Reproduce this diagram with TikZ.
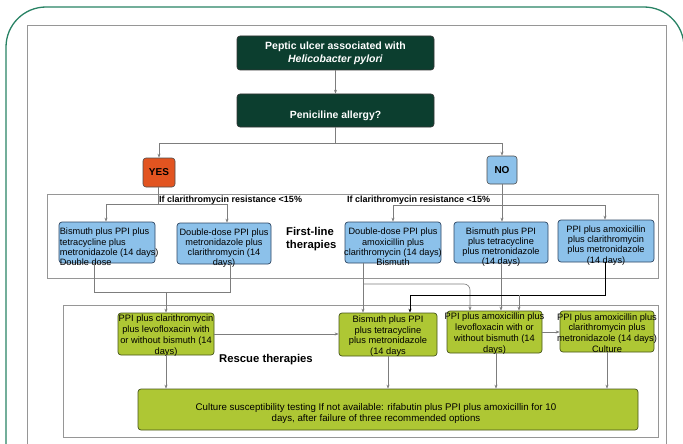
\documentclass[tikz,border=0pt]{standalone}
\usepackage{fontspec}
\setmainfont{Liberation Sans}
\usetikzlibrary{arrows.meta}
\definecolor{dgreen}{RGB}{12,62,47}
\definecolor{frameg}{RGB}{40,130,100}
\definecolor{yesc}{RGB}{226,84,32}
\definecolor{blueb}{RGB}{140,193,234}
\definecolor{bluedraw}{RGB}{45,70,100}
\definecolor{greenb}{RGB}{174,199,52}
\definecolor{greendraw}{RGB}{70,85,25}
\definecolor{conn}{RGB}{125,125,125}
\definecolor{framegray}{RGB}{150,150,150}
\tikzset{
  darkbox/.style={draw=black!80, fill=dgreen, rounded corners=3pt, line width=0.6pt, inner sep=0pt, text=white, align=center, font=\bfseries\fontsize{10.5}{13}\selectfont},
  yesbox/.style={draw=black!70, fill=yesc, rounded corners=3pt, line width=0.6pt, inner sep=0pt, font=\bfseries\fontsize{10}{12}\selectfont},
  bluebox/.style={draw=bluedraw, fill=blueb, rounded corners=3pt, line width=0.7pt, inner sep=0pt},
  greenbox/.style={draw=greendraw, fill=greenb, rounded corners=3pt, line width=0.7pt, inner sep=0pt},
  framebox/.style={draw=framegray, line width=0.6pt, inner sep=0pt},
  btxt/.style={inner sep=0pt, align=center, font=\fontsize{9.2}{10.2}\selectfont},
  rtxt/.style={inner sep=0pt, align=center, font=\fontsize{9.3}{10.8}\selectfont},
  iftxt/.style={inner sep=0pt, anchor=west, font=\bfseries\fontsize{9}{10}\selectfont},
  headtxt/.style={inner sep=0pt, anchor=west, align=left, font=\bfseries\fontsize{11.3}{13}\selectfont},
  cline/.style={draw=conn, line width=0.6pt},
  arr/.style={cline, -{Stealth[length=4pt,width=3pt]}},
  blkarr/.style={draw=black, line width=0.9pt, -{Stealth[length=4pt,width=3pt]}},
}
\begin{document}
\begin{tikzpicture}[x=1pt,y=-1pt]
\useasboundingbox (0,0) rectangle (683,444);
\begin{scope}
\clip (0,0) rectangle (683,444);
\draw[frameg, line width=1.3pt, rounded corners=40pt] (6,7) rectangle (684,520);
\draw[framegray, line width=0.6pt] (27,25) rectangle (666,470);
\end{scope}

% top nodes
\node[darkbox, minimum width=197pt, minimum height=34pt] (top) at (335.5,53) {Peptic ulcer associated with\\\textit{Helicobacter pylori}};
\node[darkbox, minimum width=197pt, minimum height=33pt] (allergy) at (335.5,110.5) {};
\node[inner sep=0pt, text=white, font=\bfseries\fontsize{10.4}{12}\selectfont] (allergyt) at ([yshift=-5.5pt]allergy.center) {Peniciline allergy?};

\node[yesbox, minimum width=32pt, minimum height=29pt] (yes) at (159,172.5) {YES};
\node[yesbox, fill=blueb, minimum width=30pt, minimum height=28pt] (no) at (502,170) {NO};

% first-line frame
\node[framebox, minimum width=611pt, minimum height=84pt] (flframe) at (352.5,236) {};
\node[iftxt] (if1) at (159,200) {If clarithromycin resistance <15\%};
\node[iftxt] (if2) at (347,200) {If clarithromycin resistance <15\%};
\node[headtxt] (flh) at (286,239) {First-line\\therapies};

\node[bluebox, minimum width=96pt, minimum height=41pt] (b1) at (107,242.5) {};
\node[btxt, align=left, anchor=west] (b1t) at ([xshift=1pt,yshift=-4.5pt]b1.west) {Bismuth plus PPI plus\\tetracycline plus\\metronidazole (14 days)\\Double dose};
\node[bluebox, minimum width=94pt, minimum height=41pt] (b2) at (224,243.5) {};
\node[btxt] (b2t) at ([yshift=-4.5pt]b2.center) {Double-dose PPI plus\\metronidazole plus\\clarithromycin (14\\days)};
\node[bluebox, minimum width=96pt, minimum height=41pt] (b3) at (393,242.5) {};
\node[btxt] (b3t) at ([yshift=-4.5pt]b3.center) {Double-dose PPI plus\\amoxicillin plus\\clarithromycin (14 days)\\Bismuth};
\node[bluebox, minimum width=94pt, minimum height=41pt] (b4) at (501,242.5) {};
\node[btxt] (b4t) at ([yshift=-4.5pt]b4.center) {Bismuth plus PPI\\plus tetracycline\\plus metronidazole\\(14 days)};
\node[bluebox, minimum width=96pt, minimum height=42pt] (b5) at (606,241) {};
\node[btxt] (b5t) at ([yshift=-4.5pt]b5.center) {PPI plus amoxicillin\\plus clarithromycin\\plus metronidazole\\(14 days)};

% rescue frame
\node[framebox, minimum width=595pt, minimum height=132pt] (rsframe) at (360.5,371) {};
\node[headtxt] (rsh) at (219,360) {Rescue therapies};

\node[greenbox, minimum width=96pt, minimum height=42pt] (r1) at (166,334) {};
\node[rtxt] (r1t) at ([yshift=-1.5pt]r1.center) {PPI plus clarithromycin\\plus levofloxacin with\\or without bismuth (14\\days)};
\node[greenbox, minimum width=98pt, minimum height=43pt] (r2) at (388,334.5) {};
\node[rtxt] (r2t) at ([yshift=-1.5pt]r2.center) {Bismuth plus PPI\\plus tetracycline\\plus metronidazole\\(14 days};
\node[greenbox, minimum width=95pt, minimum height=42pt] (r3) at (494.5,332) {};
\node[rtxt] (r3t) at ([yshift=-1.5pt]r3.center) {PPI plus amoxicillin plus\\levofloxacin with or\\without bismuth (14\\days)};
\node[greenbox, minimum width=94pt, minimum height=41pt] (r4) at (607,331.5) {};
\node[rtxt] (r4t) at ([yshift=-1.5pt]r4.center) {PPI plus amoxicillin plus\\clarithromycin plus\\metronidazole (14 days)\\Culture};

\node[greenbox, minimum width=500pt, minimum height=41pt] (cult) at (388,409.5) {};
\node[inner sep=0pt, align=center, font=\fontsize{9.7}{11}\selectfont] (cultt) at (376,413) {Culture susceptibility testing If not available: rifabutin plus PPI plus amoxicillin for 10\\days, after failure of three recommended options};

% connectors top
\draw[arr] (top.south) -- (allergy.north);
\coordinate (j0) at (335.5,143);
\draw[cline] (allergy.south) -- (j0);
\draw[arr] (j0) -| (yes.north);
\draw[arr] (j0) -| (no.north);

% YES branch
\coordinate (j1) at (158,204);
\draw[cline] ([xshift=-1pt]yes.south) -- (j1);
\draw[arr] (j1) -| ([xshift=-1pt]b1.north);
\draw[arr] (j1) -| ([xshift=3pt]b2.north);

% NO branch
\coordinate (j2) at (502,205);
\draw[arr] (no.south) -- (no.south |- b4.north);
\draw[arr] (j2) -| (b3.north);
\draw[arr] (j2) -| ([xshift=-1pt]b5.north);

% first-line to rescue
\coordinate (j3) at (166,292);
\draw[cline] ([xshift=-13pt]b1.south) |- (j3);
\draw[cline] ([xshift=6pt]b2.south) |- (j3);
\draw[arr] (j3) -- (j3 |- r1.north);

\coordinate (b3o) at ([xshift=-30pt]b3.south);
\coordinate (j4) at (470,284);
\draw[arr] (b3o) -- (b3o |- r2.north);
\draw[arr, rounded corners=6pt] (b3o |- j4) -- (j4) -- (j4 |- r3.north);
\draw[arr] (b4.south) -- (b4.south |- r3.north);

\coordinate (j5) at (410,295);
\coordinate (j6) at (519,295);
\draw[blkarr] ([xshift=-1pt]b5.south) |- (j5) -- (j5 |- r2.north);
\draw[arr] (j6) -- (j6 |- r3.north);

% rescue connectors
\draw[arr] (r1.east) -- (r1.east -| r2.west);
\draw[arr] (r3.east) -- (r3.east -| r4.west);
\draw[arr] (r1.south) -- (r1.south |- cult.north);
\draw[arr] (r2.south) -- (r2.south |- cult.north);
\draw[arr] ([xshift=1.5pt]r3.south) -- ([xshift=1.5pt]r3.south |- cult.north);
\draw[arr] (r4.south) -- (r4.south |- cult.north);
\end{tikzpicture}
\end{document}
